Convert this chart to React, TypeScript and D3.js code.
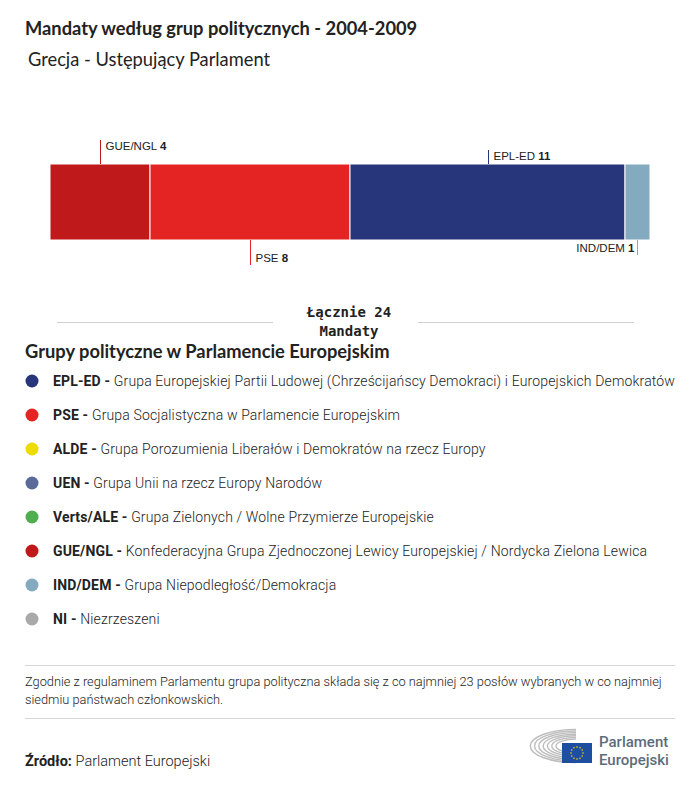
import { useEffect, useRef } from "react"
import * as d3 from "d3"

// Seats per group, in bar order (left to right)
const barGroups = ["GUE/NGL", "PSE", "EPL-ED", "IND/DEM"]
const barSeats = [4, 8, 11, 1]
const barColors = ["#c0191c", "#e42422", "#27357a", "#84aabf"]

// Legend
const legendCodes = ["EPL-ED", "PSE", "ALDE", "UEN", "Verts/ALE", "GUE/NGL", "IND/DEM", "NI"]
const legendNames = [
  "Grupa Europejskiej Partii Ludowej (Chrześcijańscy Demokraci) i Europejskich Demokratów",
  "Grupa Socjalistyczna w Parlamencie Europejskim",
  "Grupa Porozumienia Liberałów i Demokratów na rzecz Europy",
  "Grupa Unii na rzecz Europy Narodów",
  "Grupa Zielonych / Wolne Przymierze Europejskie",
  "Konfederacyjna Grupa Zjednoczonej Lewicy Europejskiej / Nordycka Zielona Lewica",
  "Grupa Niepodległość/Demokracja",
  "Niezrzeszeni",
]
const legendColors = ["#27357a", "#e42422", "#eedc00", "#5a6a99", "#4fae4f", "#c0191c", "#84aabf", "#a9a9a9"]

const FONT = "Lato, 'Open Sans', sans-serif"
const LEG_FONT = "Roboto, 'Noto Sans', sans-serif"

export default function App() {
  const svgRef = useRef<SVGSVGElement>(null)

  useEffect(() => {
    if (!svgRef.current) return
    const svg = d3.select(svgRef.current)
    svg.selectAll("*").remove()

    const total = d3.sum(barSeats)

    // Titles
    svg.append("text").attr("x", 25).attr("y", 35).attr("font-family", FONT)
      .attr("font-weight", 700).attr("font-size", 18.3).attr("fill", "#222")
      .text("Mandaty według grup politycznych - 2004-2009")
    svg.append("text").attr("x", 28).attr("y", 66).attr("font-family", FONT)
      .attr("font-weight", 400).attr("font-size", 18.3).attr("fill", "#222")
      .text("Grecja - Ustępujący Parlament")

    // Stacked bar
    const x = d3.scaleLinear().domain([0, total]).range([50, 650])
    const barTop = 164
    const barBottom = 240
    const starts = d3.cumsum([0, ...barSeats])

    const g = svg.append("g")
    g.selectAll("rect")
      .data(barSeats)
      .enter()
      .append("rect")
      .attr("x", (_, i) => x(starts[i]))
      .attr("y", barTop)
      .attr("width", (d) => x(d) - x(0))
      .attr("height", barBottom - barTop)
      .attr("fill", (_, i) => barColors[i])
      .attr("stroke", "#fff")
      .attr("stroke-width", 1)

    // Callout labels alternate above / below with two lengths
    const callouts = [
      { above: true, len: 24 },
      { above: false, len: 25 },
      { above: true, len: 14 },
      { above: false, len: 15 },
    ]
    barSeats.forEach((d, i) => {
      const cx = Math.round(x(starts[i] + d / 2)) + 0.5
      const c = callouts[i]
      const y1 = c.above ? barTop : barBottom
      const y2 = c.above ? barTop - c.len : barBottom + c.len
      g.append("line").attr("x1", cx).attr("x2", cx).attr("y1", y1).attr("y2", y2)
        .attr("stroke", barColors[i]).attr("stroke-width", 1)
      const lastRight = i === barSeats.length - 1
      const t = g.append("text")
        .attr("x", lastRight ? cx - 3 : cx + 5)
        .attr("y", c.above ? y2 + 10 : y2 - 3)
        .attr("text-anchor", lastRight ? "end" : "start")
        .attr("font-family", "'Liberation Sans', Arial, sans-serif")
        .attr("font-size", 11.5).attr("fill", "#222")
      t.append("tspan").text(barGroups[i] + " ")
      t.append("tspan").attr("font-weight", 700).text(d)
    })

    // Total
    svg.append("line").attr("x1", 57).attr("x2", 273).attr("y1", 322.5).attr("y2", 322.5)
      .attr("stroke", "#d0d0d0")
    svg.append("line").attr("x1", 418).attr("x2", 634).attr("y1", 322.5).attr("y2", 322.5)
      .attr("stroke", "#d0d0d0")
    const tot = svg.append("text").attr("text-anchor", "middle")
      .attr("font-family", "'DejaVu Sans Mono', monospace").attr("font-weight", 700)
      .attr("font-size", 14).attr("fill", "#222")
    tot.append("tspan").attr("x", 349).attr("y", 317).text(`Łącznie ${total}`)
    tot.append("tspan").attr("x", 349).attr("y", 336).text("Mandaty")

    // Legend
    svg.append("text").attr("x", 25).attr("y", 358).attr("font-family", FONT)
      .attr("font-weight", 700).attr("font-size", 18.3).attr("fill", "#222")
      .text("Grupy polityczne w Parlamencie Europejskim")

    const ly = d3.scalePoint<number>().domain(d3.range(legendCodes.length)).range([381, 619])
    legendCodes.forEach((code, i) => {
      const y = ly(i) as number
      svg.append("circle").attr("cx", 32).attr("cy", y).attr("r", 6.5).attr("fill", legendColors[i])
      const t = svg.append("text").attr("x", 53).attr("y", y + 5)
        .attr("font-family", LEG_FONT).attr("font-size", 14).attr("fill", "#222")
        .attr("letter-spacing", 0.15)
      t.append("tspan").attr("font-weight", 700).text(code + " - ")
      t.append("tspan").attr("font-weight", 300).text(legendNames[i])
    })

    // Note
    svg.append("line").attr("x1", 25).attr("x2", 675).attr("y1", 665.5).attr("y2", 665.5).attr("stroke", "#d6d6d6")
    const note = svg.append("text").attr("font-family", LEG_FONT).attr("font-size", 12.8)
      .attr("font-weight", 300).attr("fill", "#222")
    note.append("tspan").attr("x", 25).attr("y", 686)
      .text("Zgodnie z regulaminem Parlamentu grupa polityczna składa się z co najmniej 23 posłów wybranych w co najmniej")
    note.append("tspan").attr("x", 25).attr("y", 704).text("siedmiu państwach członkowskich.")
    svg.append("line").attr("x1", 25).attr("x2", 675).attr("y1", 718.5).attr("y2", 718.5).attr("stroke", "#d6d6d6")

    // Source
    const src = svg.append("text").attr("x", 25).attr("y", 766).attr("font-family", LEG_FONT)
      .attr("font-size", 14.5).attr("fill", "#222")
    src.append("tspan").attr("font-weight", 700).text("Źródło: ")
    src.append("tspan").attr("font-weight", 300).text("Parlament Europejski")

    // Logo: hemicycle, flag, name
    const logo = svg.append("g")
    const lcx = 576
    const lcy = 746
    d3.range(7).forEach((k) => {
      const rx = 20 + k * 4.3
      const ry = 7 + k * 1.6
      logo.append("path")
        .attr("d", `M${lcx},${lcy - ry} A${rx},${ry} 0 0 0 ${lcx},${lcy + ry}`)
        .attr("fill", "none").attr("stroke", "#bdbdbd").attr("stroke-width", 1.4)
    })
    logo.append("rect").attr("x", 562).attr("y", 743).attr("width", 30).attr("height", 20).attr("fill", "#1d4ea0")
    d3.range(12).forEach((k) => {
      const a = (k / 12) * Math.PI * 2
      logo.append("circle").attr("cx", 577 + Math.cos(a) * 6).attr("cy", 753 + Math.sin(a) * 6)
        .attr("r", 0.8).attr("fill", "#f5d90a")
    })
    logo.append("text").attr("font-family", LEG_FONT).attr("font-weight", 500)
      .attr("font-size", 15).attr("fill", "#5d6c7c").attr("x", 599).attr("y", 747).text("Parlament")
    logo.append("text").attr("font-family", LEG_FONT).attr("font-weight", 500)
      .attr("font-size", 15).attr("fill", "#5d6c7c").attr("x", 599).attr("y", 765).text("Europejski")
  }, [])

  return (
    <div style={{ position: "absolute", left: 0, top: 0, background: "#fff" }}>
      <svg ref={svgRef} width={700} height={787} style={{ display: "block" }}></svg>
    </div>
  )
}
